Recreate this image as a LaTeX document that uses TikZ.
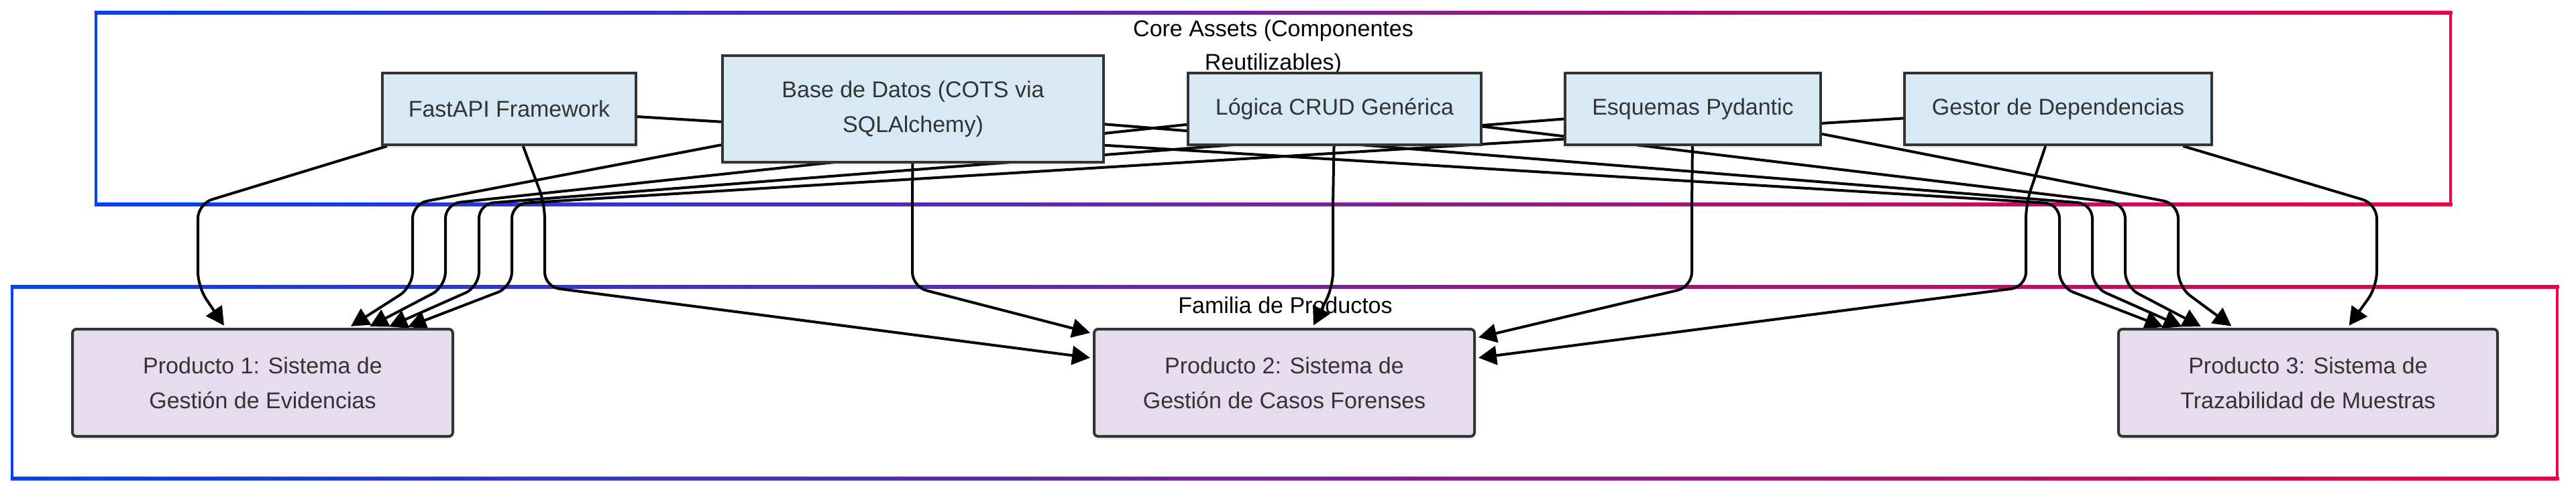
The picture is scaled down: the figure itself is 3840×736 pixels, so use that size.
\documentclass[tikz,border=0pt]{standalone}
\usepackage{fontspec}
\setmainfont{Liberation Sans}
\usetikzlibrary{arrows.meta,shadows}
\definecolor{gA}{HTML}{0044F0}
\definecolor{gB}{HTML}{F00044}
\definecolor{coreFill}{HTML}{D8E9F6}
\definecolor{prodFill}{HTML}{E7DCEE}
\definecolor{bord}{HTML}{333333}
\pgfdeclarelayer{bg}
\pgfsetlayers{bg,main}
\tikzset{
  core/.style={draw=bord, line width=4pt, fill=coreFill, text=bord, align=center,
    inner sep=0pt, drop shadow={shadow xshift=0pt, shadow yshift=-5pt, opacity=0.12}},
  prod/.style={core, fill=prodFill, rounded corners=6pt},
  grouptitle/.style={text=black, align=center, inner sep=0pt},
  edge/.style={draw=black, line width=4pt, rounded corners=22pt,
    -{Triangle[length=27pt,width=28pt]}, shorten >=4pt},
}
\begin{document}
\begin{tikzpicture}[x=1pt, y=-1pt, font=\fontsize{34}{52}\selectfont]
\useasboundingbox (0,0) rectangle (3840,736);
% core asset nodes
\node[core, minimum width=378, minimum height=107] (fast) at (759,162.5) {FastAPI Framework};
\node[core, minimum width=568, minimum height=159] (base) at (1361,162.5) {Base de Datos (COTS via\\SQLAlchemy)};
\node[core, minimum width=437, minimum height=107] (logica) at (1989.5,162.5) {Lógica CRUD Genérica};
\node[core, minimum width=381, minimum height=107] (esq) at (2523.5,162.5) {Esquemas Pydantic};
\node[core, minimum width=458, minimum height=107] (gestor) at (3068,162.5) {Gestor de Dependencias};
% product nodes
\node[prod, minimum width=567, minimum height=160] (p1) at (391.5,571) {Producto 1: Sistema de\\Gestión de Evidencias};
\node[prod, minimum width=567, minimum height=160] (p2) at (1914.5,571) {Producto 2: Sistema de\\Gestión de Casos Forenses};
\node[prod, minimum width=565, minimum height=160] (p3) at (3440.5,571) {Producto 3: Sistema de\\Trazabilidad de Muestras};
\begin{pgfonlayer}{bg}
\fill[white] (0,0) rectangle (3840,736);
% Core Assets frame
\shade[left color=gA, right color=gB] (140.75,16.75) rectangle (3655.25,21.25);
\shade[left color=gA, right color=gB] (140.75,302.75) rectangle (3655.25,307.25);
\fill[gA] (140.75,16.75) rectangle (145.25,307.25);
\fill[gB] (3650.75,16.75) rectangle (3655.25,307.25);
% Familia frame
\shade[left color=gA, right color=gB] (15.75,425.75) rectangle (3814.25,430.25);
\shade[left color=gA, right color=gB] (15.75,711.75) rectangle (3814.25,716.25);
\fill[gA] (15.75,425.75) rectangle (20.25,716.25);
\fill[gB] (3809.75,425.75) rectangle (3814.25,716.25);
\node[grouptitle, font=\fontsize{34}{50}\selectfont] (coreT) at (1898,71) {Core Assets (Componentes\\Reutilizables)};
\node[grouptitle] (famT) at (1916,455) {Familia de Productos};
% connectors
\foreach \s/\t/\x in {fast/p1/295, fast/p2/812, fast/p3/3070,
                      base/p1/615, base/p2/1360, base/p3/3119,
                      logica/p1/664, logica/p2/1987, logica/p3/3168,
                      esq/p1/714, esq/p2/2522, esq/p3/3247,
                      gestor/p1/763, gestor/p2/3020, gestor/p3/3543}
  \draw[edge] (\s) -- (\x,304) -- (\x,428) -- (\t);
\end{pgfonlayer}
\end{tikzpicture}
\end{document}
